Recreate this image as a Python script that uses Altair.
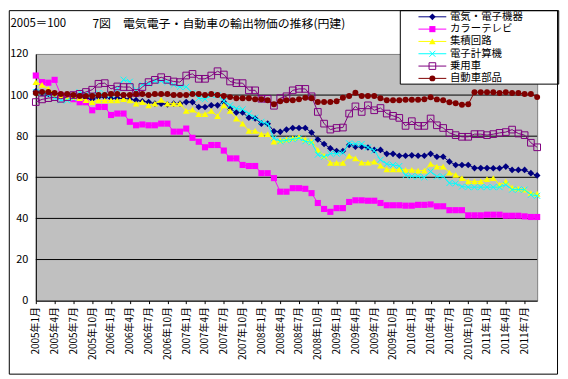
import altair as alt
import pandas as pd

FONT = "Noto Sans CJK JP"

names = ["電気・電子機器", "カラーテレビ", "集積回路", "電子計算機", "乗用車", "自動車部品"]
colors = ["#000080", "#FF00FF", "#FFFF00", "#00FFFF", "#800080", "#800000"]

title_text = "7図　電気電子・自動車の輸出物価の推移(円建)"
base_text = "2005＝100"

# monthly categories 2005年1月 .. 2011年9月
months = [f"{2005 + i // 12}年{i % 12 + 1}月" for i in range(81)]
tick_idx = list(range(0, 81, 3))
y_ticks = [0, 20, 40, 60, 80, 100, 120]
grid_vals = [20, 40, 60, 80, 100]

denki = [101.8, 101.0, 100.5, 100.5, 100.0, 99.5, 99.0, 99.5, 98.5, 98.0, 99.0, 99.0,
         98.5, 98.5, 98.2, 98.0, 97.5, 97.0, 96.6, 95.8, 95.8, 95.5, 95.8, 95.8,
         96.6, 96.6, 94.2, 94.2, 95.0, 95.0, 96.6, 93.4, 91.5, 91.5, 89.0, 88.6,
         86.1, 86.1, 82.4, 82.1, 83.2, 84.0, 84.0, 84.0, 81.8, 78.4, 76.2, 74.1,
         72.8, 72.8, 75.7, 74.9, 74.9, 74.5, 73.3, 73.3, 71.4, 71.4, 70.5, 70.5,
         70.7, 70.5, 70.5, 71.4, 70.0, 70.0, 67.6, 66.0, 66.0, 66.0, 64.5, 64.5,
         64.5, 64.4, 64.4, 65.2, 63.6, 63.6, 63.6, 62.0, 60.9]
tv = [109.5, 106.3, 106.0, 107.4, 100.0, 99.0, 98.0, 96.5, 96.5, 92.6, 94.2, 94.2,
      90.3, 91.0, 91.0, 87.0, 85.3, 85.7, 85.3, 85.3, 86.1, 86.1, 82.2, 82.2,
      83.7, 79.2, 77.3, 74.6, 75.7, 75.7, 73.0, 69.2, 69.2, 66.0, 65.5, 65.5,
      62.0, 62.0, 59.6, 53.0, 53.0, 54.7, 54.7, 54.4, 52.3, 47.5, 44.6, 43.2,
      45.0, 45.0, 48.0, 48.8, 48.8, 48.6, 48.6, 47.5, 46.4, 46.4, 46.4, 46.2,
      46.2, 46.6, 46.6, 46.8, 45.9, 45.9, 44.0, 44.0, 44.0, 41.5, 41.5, 41.5,
      41.8, 41.8, 41.8, 41.3, 41.3, 41.3, 41.0, 40.7, 40.7]
ic = [106.3, 105.0, 103.0, 100.6, 99.5, 98.5, 99.0, 98.5, 97.5, 96.6, 97.4, 97.4,
      97.4, 97.4, 98.0, 97.4, 95.8, 96.6, 95.0, 95.8, 97.7, 95.8, 95.8, 95.8,
      92.3, 92.9, 90.7, 90.7, 92.3, 89.7, 95.0, 92.3, 88.6, 86.1, 82.6, 82.6,
      81.0, 81.0, 77.3, 78.0, 78.5, 79.0, 79.5, 78.5, 77.5, 73.3, 70.5, 67.0,
      67.0, 67.0, 70.4, 69.2, 67.1, 67.1, 67.6, 65.7, 63.9, 63.9, 63.9, 63.6,
      63.6, 63.3, 63.3, 66.5, 65.2, 65.2, 62.3, 61.2, 59.6, 58.0, 58.0, 58.0,
      59.1, 59.6, 56.4, 58.0, 55.0, 54.5, 54.0, 52.3, 52.0]
pc = [101.5, 101.0, 100.0, 98.5, 97.4, 97.4, 98.5, 101.4, 100.5, 100.0, 101.0, 100.5,
      100.0, 103.0, 107.5, 106.5, 102.3, 105.0, 105.5, 106.8, 106.8, 106.3, 105.0, 104.0,
      104.0, 101.0, 98.5, 98.0, 100.0, 100.0, 97.0, 95.0, 93.5, 93.0, 91.0, 89.0,
      87.0, 86.0, 79.0, 77.5, 78.0, 78.5, 79.0, 77.5, 77.0, 71.0, 70.0, 71.5,
      71.5, 72.0, 76.5, 76.2, 76.2, 74.5, 73.0, 68.5, 66.5, 66.0, 65.5, 61.0,
      60.5, 60.5, 60.0, 62.8, 60.4, 60.4, 57.2, 57.0, 55.5, 55.2, 55.2, 55.2,
      55.2, 55.2, 55.2, 56.4, 54.0, 54.0, 54.0, 51.5, 51.0]
car = [96.6, 97.9, 98.5, 99.0, 98.2, 99.0, 100.0, 100.6, 101.5, 102.6, 105.5, 105.8,
       103.0, 104.2, 103.9, 103.9, 101.0, 103.9, 106.3, 107.4, 108.7, 107.4, 106.6, 106.3,
       109.5, 110.3, 107.9, 107.9, 109.5, 111.6, 110.0, 106.6, 105.8, 105.8, 102.3, 102.3,
       98.2, 98.2, 94.8, 98.5, 99.4, 102.3, 103.0, 103.0, 99.4, 91.8, 86.1, 83.2,
       84.0, 84.2, 91.0, 94.5, 91.8, 95.0, 92.6, 93.7, 91.0, 89.9, 88.9, 85.0,
       87.3, 85.0, 85.0, 88.6, 85.3, 84.0, 81.6, 80.5, 79.7, 79.7, 81.0, 81.0,
       80.5, 81.0, 81.6, 82.0, 83.2, 81.3, 80.5, 76.8, 74.6]
parts = [101.0, 101.5, 101.5, 101.0, 100.5, 100.5, 100.0, 99.5, 99.5, 99.5, 100.0, 100.0,
         100.5, 100.5, 100.0, 100.0, 100.5, 100.5, 100.0, 100.5, 100.5, 100.5, 100.0, 100.0,
         100.0, 100.5, 100.5, 100.0, 100.5, 100.0, 99.5, 99.0, 98.5, 98.5, 98.5, 98.0,
         98.0, 97.5, 95.5, 97.0, 97.5, 97.5, 98.0, 98.7, 98.5, 96.6, 96.6, 96.6,
         97.0, 98.7, 99.5, 101.1, 99.5, 99.5, 99.5, 98.5, 97.5, 97.5, 97.5, 97.7,
         97.7, 97.7, 98.0, 98.9, 97.9, 97.5, 96.5, 96.0, 95.3, 95.5, 101.4, 101.4,
         101.4, 101.4, 101.0, 101.4, 101.0, 101.0, 100.5, 100.5, 99.0]

series_values = [denki, tv, ic, pc, car, parts]

rows = []
for s, vals in zip(names, series_values):
    for i, v in enumerate(vals):
        rows.append({"series": s, "month": months[i], "idx": i, "value": v})
df = pd.DataFrame(rows)

markers = [
    dict(shape="diamond", filled=True, size=45),
    dict(shape="square", filled=True, size=38),
    dict(shape="triangle-up", filled=True, size=45),
    dict(shape="M-1,-1L1,1M-1,1L1,-1", filled=False, size=36, strokeWidth=1),
    dict(shape="square", filled=False, size=45, strokeWidth=1),
    dict(shape="circle", filled=True, size=36),
]

W, H = 504.8, 248.4

label_expr = "[" + ",".join(f"'{m}'" for m in months) + "][datum.value]"

x_enc = alt.X(
    "idx:Q",
    scale=alt.Scale(domain=[0, len(months) - 1], nice=False, zero=False),
    axis=alt.Axis(values=tick_idx, labelExpr=label_expr, labelAngle=-90, title=None,
                  labelFont=FONT, labelFontSize=10, labelColor="black",
                  domainColor="black", tickColor="black", tickSize=3, labelPadding=3,
                  grid=False, labelOverlap=False, labelFlush=False, labelBound=False),
)
y_enc = alt.Y(
    "value:Q",
    scale=alt.Scale(domain=[0, 120], nice=False),
    axis=alt.Axis(values=y_ticks, title=None, grid=False, ticks=False, labelFont=FONT,
                  labelFontSize=11, labelColor="black", domainColor="black",
                  labelPadding=8),
)

grid = alt.Chart(pd.DataFrame({"value": grid_vals})).mark_rule(
    color="black", strokeWidth=1).encode(y=y_enc)

main_layers = [grid]
for s, c, m in zip(names, colors, markers):
    sub = df[df.series == s]
    main_layers.append(
        alt.Chart(sub).mark_line(color=c, strokeWidth=1).encode(
            x=x_enc, y=y_enc, order="idx:Q"))
    main_layers.append(
        alt.Chart(sub).mark_point(color=c, opacity=1, **m).encode(x=x_enc, y=y_enc))
main = alt.layer(*main_layers)

# legend (drawn from the series list)
leg_df = pd.DataFrame({"series": names, "k": list(range(len(names)))})
ly = alt.Y("k:Q", scale=alt.Scale(domain=[0, 5], range=[-37.4, 24.6]), axis=None)

one = pd.DataFrame({"a": [0]})
leg_box = alt.Chart(one).mark_rect(fill="white", stroke="black", strokeWidth=1).encode(
    x=alt.value(367), x2=alt.value(526.5), y=alt.value(-43.6), y2=alt.value(30.4))
leg_lines = alt.Chart(leg_df).mark_rule(strokeWidth=1).encode(
    x=alt.value(385.3), x2=alt.value(413.3), y=ly,
    color=alt.Color("series:N", scale=alt.Scale(domain=names, range=colors), legend=None))
leg_layers = [leg_box, leg_lines]
for s, c, m in zip(names, colors, markers):
    leg_layers.append(
        alt.Chart(leg_df[leg_df.series == s]).mark_point(color=c, opacity=1, **m).encode(
            x=alt.value(399.3), y=ly))
leg_layers.append(
    alt.Chart(leg_df).mark_text(align="left", baseline="middle", font=FONT, fontSize=10.5,
                                color="black").encode(x=alt.value(417), y=ly, text="series:N"))

title = alt.Chart(pd.DataFrame({"t": [title_text]})).mark_text(
    align="center", baseline="middle", font=FONT, fontSize=12, color="black").encode(
    x=alt.value(184.3), y=alt.value(-30), text="t:N")
base = alt.Chart(pd.DataFrame({"t": [base_text]})).mark_text(
    align="left", baseline="middle", font=FONT, fontSize=11.5, color="black").encode(
    x=alt.value(-25.5), y=alt.value(-30.6), text="t:N")
frame = alt.Chart(one).mark_rect(fillOpacity=0, stroke="black", strokeWidth=1).encode(
    x=alt.value(-26.7), x2=alt.value(525.3), y=alt.value(-43.6), y2=alt.value(322.4))

legend = alt.layer(*leg_layers, title, base, frame)

chart = alt.layer(main, legend).resolve_scale(y="independent").properties(
    width=W, height=H, padding=0, background="white"
).configure_view(fill="#C0C0C0", stroke="#808080", strokeWidth=1)

chart.save("out.html", embed_options={"renderer": "svg", "actions": False})
